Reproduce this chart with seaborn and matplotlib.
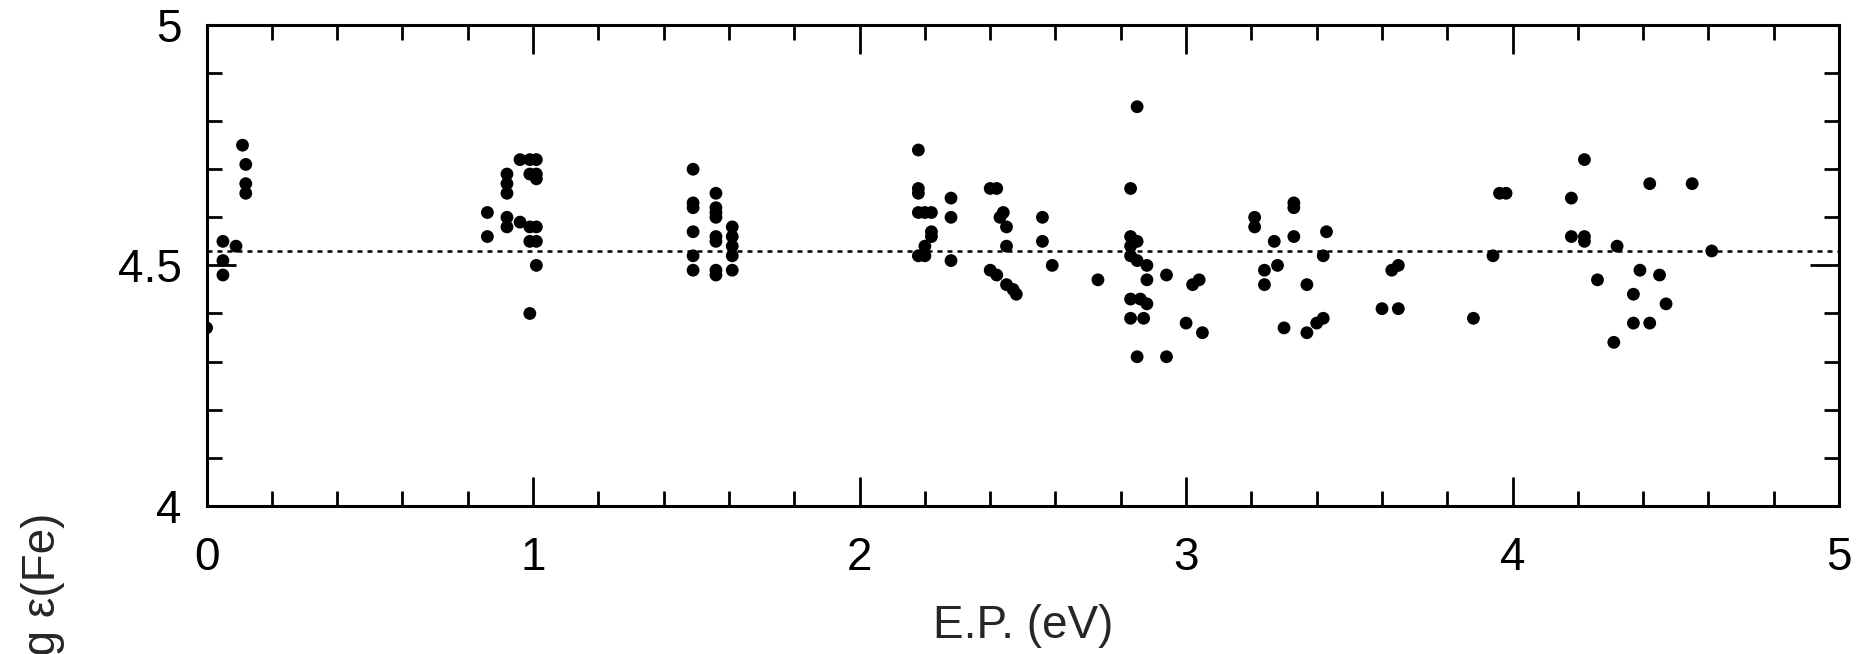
import matplotlib
matplotlib.use('Agg')
import matplotlib.pyplot as plt
from matplotlib.ticker import MultipleLocator, FixedLocator
import seaborn as sns
import pandas as pd

# 励起ポテンシャル (eV) と各線からの鉄組成 log eps(Fe)
ep = [
    0.00, 0.05, 0.05, 0.05, 0.09, 0.11, 0.12, 0.12, 0.12,
    0.86, 0.86, 0.92, 0.92, 0.92, 0.92, 0.92, 0.96, 0.96, 0.99, 1.01, 0.99, 1.01, 1.01, 0.99, 1.01, 0.99, 1.01, 1.01, 0.99,
    1.49, 1.49, 1.49, 1.49, 1.49, 1.49, 1.56, 1.56, 1.56, 1.56, 1.56, 1.56, 1.56, 1.56, 1.61, 1.61, 1.61, 1.61, 1.61,
    2.18, 2.18, 2.18, 2.18, 2.20, 2.22, 2.22, 2.22, 2.20, 2.18, 2.20, 2.28, 2.28, 2.28,
    2.40, 2.42, 2.44, 2.43, 2.45, 2.45, 2.40, 2.42, 2.45, 2.47, 2.48, 2.56, 2.56, 2.59,
    2.73, 2.85, 2.83, 2.83, 2.85, 2.83, 2.83, 2.85, 2.88, 2.88, 2.94, 2.83, 2.86, 2.88, 2.83, 2.87, 2.85, 2.94, 3.00, 3.02, 3.04, 3.05,
    3.21, 3.21, 3.33, 3.33, 3.33, 3.27, 3.43, 3.42, 3.24, 3.28, 3.24, 3.37, 3.30, 3.37, 3.40, 3.42,
    3.96, 3.98, 3.94, 3.63, 3.65, 3.60, 3.65, 3.88,
    4.22, 4.18, 4.42, 4.55, 4.18, 4.22, 4.22, 4.32, 4.61, 4.39, 4.45, 4.26, 4.37, 4.47, 4.37, 4.42, 4.31,
]
logeps = [
    4.37, 4.55, 4.51, 4.48, 4.54, 4.75, 4.71, 4.67, 4.65,
    4.61, 4.56, 4.69, 4.67, 4.65, 4.60, 4.58, 4.59, 4.72, 4.72, 4.72, 4.69, 4.69, 4.68, 4.58, 4.58, 4.55, 4.55, 4.50, 4.40,
    4.70, 4.63, 4.62, 4.57, 4.52, 4.49, 4.65, 4.62, 4.61, 4.60, 4.56, 4.55, 4.49, 4.48, 4.58, 4.56, 4.54, 4.52, 4.49,
    4.74, 4.66, 4.65, 4.61, 4.61, 4.61, 4.57, 4.56, 4.54, 4.52, 4.52, 4.64, 4.60, 4.51,
    4.66, 4.66, 4.61, 4.60, 4.58, 4.54, 4.49, 4.48, 4.46, 4.45, 4.44, 4.60, 4.55, 4.50,
    4.47, 4.83, 4.66, 4.56, 4.55, 4.54, 4.52, 4.51, 4.50, 4.47, 4.48, 4.43, 4.43, 4.42, 4.39, 4.39, 4.31, 4.31, 4.38, 4.46, 4.47, 4.36,
    4.60, 4.58, 4.63, 4.62, 4.56, 4.55, 4.57, 4.52, 4.49, 4.50, 4.46, 4.46, 4.37, 4.36, 4.38, 4.39,
    4.65, 4.65, 4.52, 4.49, 4.50, 4.41, 4.41, 4.39,
    4.72, 4.64, 4.67, 4.67, 4.56, 4.56, 4.55, 4.54, 4.53, 4.49, 4.48, 4.47, 4.44, 4.42, 4.38, 4.38, 4.34,
]
mean_fe = 4.53

xticks = [0, 1, 2, 3, 4, 5]
yticks = [4, 4.5, 5]
yticklabels = ['4', '4.5', '5']

df = pd.DataFrame({'ep': ep, 'logeps': logeps})

sns.set_style('ticks')
plt.rcParams['font.family'] = ['Liberation Sans', 'DejaVu Sans']

fig = plt.figure(figsize=(18.73, 6.54), dpi=100)
ax = fig.add_axes([0.1103, 0.2266, 0.8716, 0.7352])

sns.scatterplot(data=df, x='ep', y='logeps', ax=ax, color='black', s=85,
                edgecolor='none', linewidth=0, legend=False, zorder=3)
ax.axhline(mean_fe, color='black', lw=1.8, linestyle=(0, (2.0, 2.0)), zorder=2)

ax.set_xlim(0, 5)
ax.set_ylim(4, 5)
ax.xaxis.set_major_locator(FixedLocator(xticks))
ax.xaxis.set_minor_locator(MultipleLocator(0.2))
ax.yaxis.set_major_locator(FixedLocator(yticks))
ax.yaxis.set_minor_locator(MultipleLocator(0.1))
ax.set_yticklabels(yticklabels)

for s in ax.spines.values():
    s.set_linewidth(2.2)
    s.set_color('black')
ax.tick_params(which='both', direction='in', top=True, right=True, width=2.0, colors='black')
ax.tick_params(which='major', length=21, labelsize=33)
ax.tick_params(axis='x', which='major', pad=22)
ax.tick_params(axis='y', which='major', pad=18)
ax.tick_params(which='minor', length=11)

ax.set_xlabel('E.P. (eV)', fontsize=33, labelpad=17)
ax.set_ylabel('')
fig.text(0.023, 0.2156, 'log ε(Fe)', rotation=90, ha='center', va='top', fontsize=33)

fig.savefig('out.png', dpi=100)
